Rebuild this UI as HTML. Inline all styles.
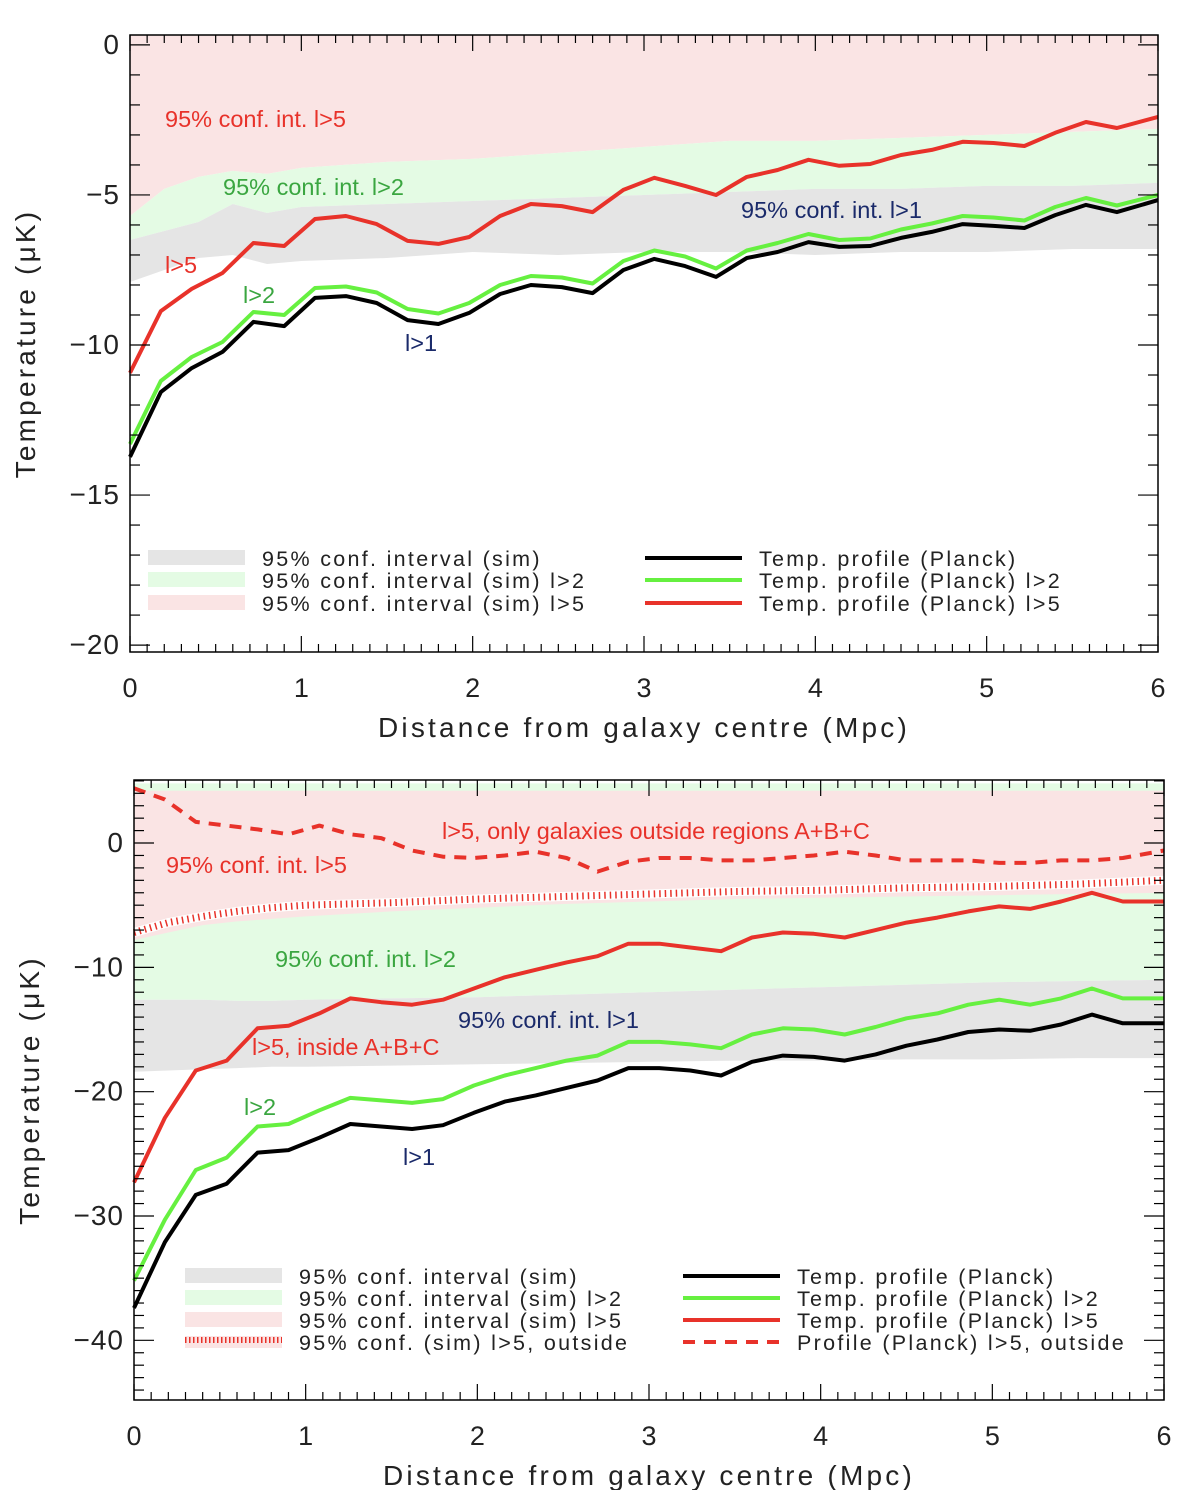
<!DOCTYPE html>
<html><head><meta charset="utf-8"><style>
html,body{margin:0;padding:0;background:#fff;}
svg{display:block;}
text{font-family:"Liberation Sans","DejaVu Sans",sans-serif;}
</style></head><body>
<svg id="fig" width="1200" height="1490" viewBox="0 0 1200 1490" xmlns="http://www.w3.org/2000/svg"></svg>
<script>
// ---------- Data: top panel ----------
const topX = [0,0.18,0.36,0.54,0.72,0.9,1.08,1.26,1.44,1.62,1.8,1.98,2.16,2.34,2.52,2.7,2.88,3.06,3.24,3.42,3.6,3.78,3.96,4.14,4.32,4.5,4.68,4.86,5.04,5.22,5.4,5.58,5.76,6.0];
const topL1 = [-13.73,-11.57,-10.77,-10.23,-9.23,-9.37,-8.43,-8.37,-8.6,-9.17,-9.3,-8.93,-8.3,-8.0,-8.07,-8.27,-7.5,-7.13,-7.37,-7.73,-7.1,-6.9,-6.57,-6.73,-6.7,-6.43,-6.23,-5.97,-6.03,-6.1,-5.67,-5.33,-5.57,-5.17];
const topL2 = [-13.3,-11.2,-10.4,-9.9,-8.9,-9.0,-8.1,-8.05,-8.25,-8.8,-8.95,-8.6,-8.0,-7.7,-7.75,-7.95,-7.2,-6.85,-7.05,-7.45,-6.85,-6.6,-6.3,-6.5,-6.45,-6.15,-5.95,-5.7,-5.75,-5.85,-5.4,-5.1,-5.35,-5.0];
const topL5 = [-10.93,-8.87,-8.13,-7.6,-6.6,-6.7,-5.8,-5.7,-5.97,-6.53,-6.63,-6.4,-5.7,-5.3,-5.37,-5.57,-4.83,-4.43,-4.7,-5.0,-4.4,-4.17,-3.83,-4.03,-3.97,-3.67,-3.5,-3.23,-3.27,-3.37,-2.93,-2.57,-2.77,-2.4];
const topBandX = [0,0.2,0.4,0.6,0.8,1.0,1.5,2.0,2.5,3.0,3.5,4.0,4.5,5.0,5.5,6.0];
const topGreenHi = [-5.7,-4.8,-4.4,-4.2,-4.3,-4.1,-3.9,-3.8,-3.6,-3.4,-3.2,-3.2,-3.1,-3.0,-2.9,-2.8];
const topGreyHi = [-6.5,-6.2,-5.9,-5.3,-5.6,-5.4,-5.3,-5.2,-5.1,-5.0,-4.9,-4.8,-4.8,-4.7,-4.7,-4.6];
const topGreyLo = [-7.9,-7.5,-7.1,-7.0,-7.3,-7.2,-7.1,-6.9,-7.0,-6.9,-6.9,-7.0,-6.9,-6.9,-6.8,-6.8];
const topYTicks = [0,-5,-10,-15,-20];
const xTicks = [0,1,2,3,4,5,6];

// ---------- Data: bottom panel ----------
const botX = topX;
const botL1 = [-37.4,-32.1,-28.3,-27.4,-24.9,-24.7,-23.7,-22.6,-22.8,-23.0,-22.7,-21.7,-20.8,-20.3,-19.7,-19.1,-18.1,-18.1,-18.3,-18.7,-17.6,-17.1,-17.2,-17.5,-17.0,-16.3,-15.8,-15.2,-15.0,-15.1,-14.6,-13.8,-14.5,-14.5];
const botL2 = [-35.2,-30.3,-26.3,-25.3,-22.8,-22.6,-21.5,-20.5,-20.7,-20.9,-20.6,-19.5,-18.7,-18.1,-17.5,-17.1,-16.0,-16.0,-16.2,-16.5,-15.4,-14.9,-15.0,-15.4,-14.8,-14.1,-13.7,-13.0,-12.6,-13.0,-12.5,-11.7,-12.5,-12.5];
const botL5 = [-27.3,-22.1,-18.3,-17.5,-14.9,-14.7,-13.7,-12.5,-12.8,-13.0,-12.6,-11.7,-10.8,-10.2,-9.6,-9.1,-8.1,-8.1,-8.4,-8.7,-7.6,-7.2,-7.3,-7.6,-7.0,-6.4,-6.0,-5.5,-5.1,-5.3,-4.7,-4.0,-4.7,-4.7];
const botOut = [4.4,3.5,1.7,1.4,1.1,0.7,1.4,0.7,0.4,-0.6,-1.1,-1.2,-1.0,-0.7,-1.2,-2.3,-1.5,-1.2,-1.2,-1.4,-1.4,-1.2,-1.0,-0.7,-1.0,-1.4,-1.4,-1.4,-1.6,-1.6,-1.4,-1.4,-1.2,-0.6];
const botBandX = [0,0.2,0.4,0.6,0.8,1.0,1.5,2.0,2.5,3.0,3.5,4.0,4.5,5.0,5.5,6.0];
const botOutCI = [-7.2,-6.4,-5.9,-5.5,-5.2,-5.0,-4.8,-4.5,-4.3,-4.1,-3.9,-3.8,-3.6,-3.5,-3.3,-3.0];
const botPinkHi = [4.2,4.2,4.2,4.2,4.2,4.2,4.2,4.2,4.2,4.2,4.2,4.2,4.2,4.2,4.2,4.2];
const botGreenHi = [4.8,4.8,4.8,4.8,4.8,4.8,4.8,4.8,4.8,4.8,4.8,4.8,4.8,4.8,4.8,4.8];
const botPinkLo = [-7.8,-7.2,-6.6,-6.3,-6.1,-5.9,-5.5,-5.2,-4.9,-4.7,-4.5,-4.4,-4.3,-4.2,-4.1,-4.0];
const botGreyHi = [-12.6,-12.6,-12.6,-12.7,-12.7,-12.6,-12.5,-12.4,-12.2,-12.0,-11.8,-11.6,-11.4,-11.2,-11.1,-11.0];
const botGreyLo = [-18.4,-18.3,-18.2,-18.1,-18.0,-18.0,-17.9,-17.8,-17.7,-17.6,-17.5,-17.5,-17.4,-17.4,-17.3,-17.3];
const botYTicks = [0,-10,-20,-30,-40];

const NS = "http://www.w3.org/2000/svg";
const svg = document.getElementById('fig');
function mk(tag, attrs, parent){ const e=document.createElementNS(NS,tag); for(const k in attrs) e.setAttribute(k,attrs[k]); (parent||svg).appendChild(e); return e; }

function panel(P){
  const g = mk('g',{});
  
  
  const sx = d => P.x0 + (d-0)/(6-0)*(P.x1-P.x0);
  const sy = v => P.y0 + (P.ymax - v)/(P.ymax - P.ymin)*(P.y1-P.y0);
  const band = (xs, hi, lo, fill, nm) => {
    let d = xs.map((x,i)=>(i?'L':'M')+sx(x).toFixed(1)+','+sy(hi[i]).toFixed(1)).join('');
    for(let i=xs.length-1;i>=0;i--) d += 'L'+sx(xs[i]).toFixed(1)+','+sy(lo[i]).toFixed(1);
    const p = mk('path',{d:d+'Z',fill:fill,stroke:'none'},g);
    
    
  };
  const line = (xs, ys, col, nm, extra) => {
    const d = xs.map((x,i)=>(i?'L':'M')+sx(x).toFixed(1)+','+sy(ys[i]).toFixed(1)).join('');
    const p = mk('path',Object.assign({d:d,fill:'none',stroke:col,'stroke-width':4,'stroke-linejoin':'round'},extra||{}),g);
    
    
  };
  P.draw(band, line, sx, sy, g);
  const fr = mk('rect',{x:P.x0,y:P.y0,width:P.x1-P.x0,height:P.y1-P.y0,fill:'none',stroke:'#000','stroke-width':1.5},g);
  
  
  for(let k=0;k<=60;k++){
    const d=k/10, X=sx(d), L=(k%10===0)?16:8;
    mk('line',{x1:X,y1:P.y1,x2:X,y2:P.y1-L,stroke:'#000','stroke-width':1.2},g);
    mk('line',{x1:X,y1:P.y0,x2:X,y2:P.y0+L,stroke:'#000','stroke-width':1.2},g);
  }
  xTicks.forEach(t=>{
    const tx = mk('text',{x:sx(t),y:P.y1+45,'font-size':27,'text-anchor':'middle',fill:'#222'},g);
    tx.textContent = t;
    
    
  });
  for(let v=Math.ceil(P.ymin); v<=Math.floor(P.ymax); v++){
    const Y=sy(v), L=(v%P.major===0)?20:10;
    mk('line',{x1:P.x0,y1:Y,x2:P.x0+L,y2:Y,stroke:'#000','stroke-width':1.2},g);
    mk('line',{x1:P.x1,y1:Y,x2:P.x1-L,y2:Y,stroke:'#000','stroke-width':1.2},g);
  }
  P.yt.forEach(t=>{
    const tx = mk('text',{x:P.x0-10,y:sy(t)+9,'font-size':28,'text-anchor':'end',fill:'#222','letter-spacing':'1'},g);
    tx.textContent = t===0 ? '0' : '\u2212'+Math.abs(t);
    
    
  });
  const xt = mk('text',{x:(P.x0+P.x1)/2,y:P.y1+85,'font-size':28,'text-anchor':'middle',fill:'#222','letter-spacing':'3.2'},g);
  xt.textContent = 'Distance from galaxy centre (Mpc)';
  
  
  const yc = (P.y0+P.y1)/2;
  const yt = mk('text',{x:0,y:0,'font-size':28,'text-anchor':'middle',fill:'#222','letter-spacing':'3.2',transform:`translate(${P.x0-95},${yc}) rotate(-90)`},g);
  yt.textContent = 'Temperature  (\u03bcK)';
  
  
  P.notes.forEach(n=>{
    const t = mk('text',{x:n[0],y:n[1],'font-size':23.5,fill:n[3]},g);
    t.textContent = n[2];
    
    
  });
  P.legend.forEach(e=>{
    const lg = mk('g',{},g);
    
    
    if(e.type==='band') mk('rect',{x:e.x,y:e.y-8,width:97,height:15,fill:e.col},lg);
    else if(e.type==='dot'){ mk('rect',{x:e.x,y:e.y-6,width:97,height:12,fill:'#fae4e4'},lg); mk('line',{x1:e.x,y1:e.y-2,x2:e.x+97,y2:e.y-2,stroke:e.col,'stroke-width':6,'stroke-dasharray':'1.5 2.5'},lg); }
    else mk('line',{x1:e.x,y1:e.y,x2:e.x+97,y2:e.y,stroke:e.col,'stroke-width':4,'stroke-dasharray':e.dash||'none'},lg);
    const t = mk('text',{x:e.x+114,y:e.y+8,'font-size':21.5,fill:'#222','letter-spacing':'2.3'},lg);
    t.textContent = e.label;
  });
}

panel({name:'top-panel', x0:130,x1:1158,y0:35,y1:652,ymax:0.33,ymin:-20.23,major:5,yt:topYTicks,
  draw:(band,line)=>{
    band(topBandX, topBandX.map(()=>0.33), topGreenHi, '#fae4e4','band-l5');
    band(topBandX, topGreenHi, topGreyHi, '#e4fbe4','band-l2');
    band(topBandX, topGreyHi, topGreyLo, '#e5e5e5','band-l1');
    line(topX, topL5, '#e8322a','line-l5');
    line(topX, topL2, '#66f040','line-l2');
    line(topX, topL1, '#000','line-l1');
  },
  notes:[[165,127,'95% conf. int. l>5','#e8322a'],[223,195,'95% conf. int. l>2','#3aa640'],[741,218,'95% conf. int. l>1','#1a2a6a'],
         [165,273,'l>5','#e8322a'],[243,303,'l>2','#3aa640'],[405,351,'l>1','#1a2a6a']],
  legend:[{type:'band',x:148,y:558,col:'#e5e5e5',label:'95% conf. interval (sim)'},
          {type:'band',x:148,y:580,col:'#e4fbe4',label:'95% conf. interval (sim) l>2'},
          {type:'band',x:148,y:603,col:'#fae4e4',label:'95% conf. interval (sim) l>5'},
          {type:'line',x:645,y:558,col:'#000',label:'Temp. profile (Planck)'},
          {type:'line',x:645,y:580,col:'#66f040',label:'Temp. profile (Planck) l>2'},
          {type:'line',x:645,y:603,col:'#e8322a',label:'Temp. profile (Planck) l>5'}]
});

panel({name:'bottom-panel', x0:134,x1:1164,y0:780,y1:1400,ymax:5.07,ymin:-44.8,major:10,yt:botYTicks,
  draw:(band,line)=>{
    band(botBandX, botGreenHi, botGreyHi, '#e4fbe4','band-l2');
    band(botBandX, botPinkHi, botPinkLo, '#fae4e4','band-l5');
    band(botBandX, botGreyHi, botGreyLo, '#e5e5e5','band-l1');
    line(botBandX, botOutCI, '#fff','ci-outside-bg',{'stroke-width':9});
    line(botBandX, botOutCI, '#e8322a','ci-outside',{'stroke-width':7,'stroke-dasharray':'1.5 4'});
    line(botX, botOut, '#e8322a','line-l5-outside',{'stroke-dasharray':'12 9'});
    line(botX, botL5, '#e8322a','line-l5-inside');
    line(botX, botL2, '#66f040','line-l2');
    line(botX, botL1, '#000','line-l1');
  },
  notes:[[442,839,'l>5, only galaxies outside regions A+B+C','#e8322a'],[166,873,'95% conf. int. l>5','#e8322a'],[275,967,'95% conf. int. l>2','#3aa640'],
         [458,1028,'95% conf. int. l>1','#1a2a6a'],[252,1055,'l>5, inside A+B+C','#e8322a'],[244,1115,'l>2','#3aa640'],[403,1165,'l>1','#1a2a6a']],
  legend:[{type:'band',x:185,y:1276,col:'#e5e5e5',label:'95% conf. interval (sim)'},
          {type:'band',x:185,y:1298,col:'#e4fbe4',label:'95% conf. interval (sim) l>2'},
          {type:'band',x:185,y:1320,col:'#fae4e4',label:'95% conf. interval (sim) l>5'},
          {type:'dot',x:185,y:1342,col:'#e8322a',label:'95% conf. (sim) l>5, outside'},
          {type:'line',x:683,y:1276,col:'#000',label:'Temp. profile (Planck)'},
          {type:'line',x:683,y:1298,col:'#66f040',label:'Temp. profile (Planck) l>2'},
          {type:'line',x:683,y:1320,col:'#e8322a',label:'Temp. profile (Planck) l>5'},
          {type:'line',x:683,y:1342,col:'#e8322a',dash:'12 9',label:'Profile (Planck) l>5, outside'}]
});
</script>
</body></html>
